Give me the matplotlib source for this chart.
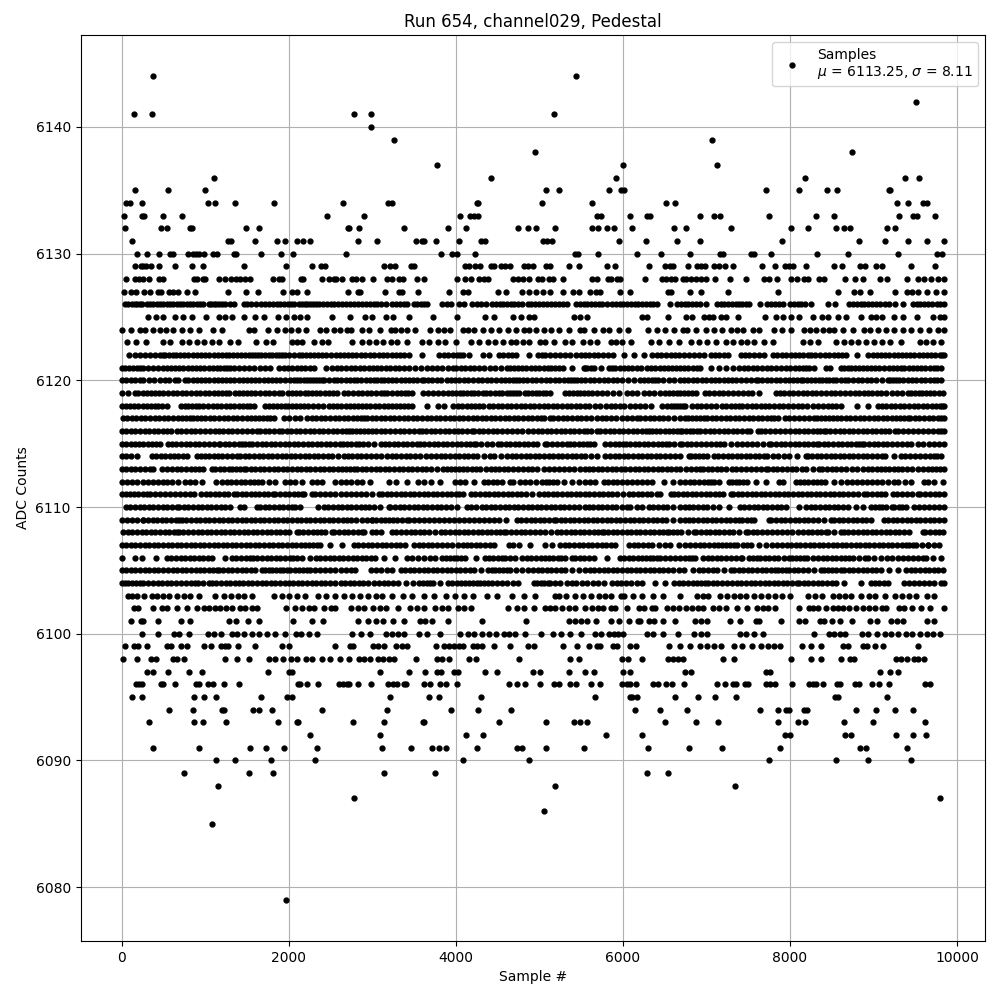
import matplotlib
matplotlib.use("Agg")
import matplotlib.pyplot as plt

at_6144 = [380, 5436]
at_6142 = [9504]
at_6141 = [152, 368, 2780, 2984, 5172]
at_6140 = [2984]
at_6139 = [3260, 7068]
at_6138 = [4944, 8748]
at_6137 = [3776, 6000, 7128]
at_6136 = [1100, 4424, 5916, 8184, 9372, 9540]
at_6135 = [164, 560, 1004, 5076, 5232, 5832, 5976, 6012, 7716, 8112, 8448, 8568, 9180, 9200]
at_6134 = [56, 104, 240, 1028, 1112, 1352, 1820, 2648, 3188, 3236, 4250, 4270, 5028, 5628, 6516, 6624, 9276, 9408, 9588, 9636]
at_6133 = [32, 248, 272, 500, 728, 2456, 2900, 4052, 4172, 4220, 4268, 5688, 5736, 6084, 6288, 6324, 6924, 7092, 7164, 7752, 8316, 8532, 9300, 9468, 9516, 9732]
at_6132 = [44, 476, 548, 820, 844, 1484, 1640, 2708, 2724, 2840, 3380, 3908, 4124, 4748, 4868, 4956, 5184, 5628, 5700, 5808, 5892, 6108, 6612, 6756, 7296, 8016, 8220, 8556, 8652, 8724, 9156, 9252]
at_6131 = [128, 1268, 1308, 1592, 1856, 1952, 2096, 2168, 2252, 2828, 3056, 3524, 3596, 3620, 3764, 4040, 4304, 4352, 5040, 5088, 5148, 5952, 6276, 6648, 6924, 7908, 8820, 9132, 9408, 9636, 9840]
at_6130 = [188, 308, 452, 584, 620, 800, 860, 888, 932, 992, 1088, 1136, 1340, 1364, 1664, 1904, 2048, 2684, 3824, 3956, 4016, 4232, 5424, 5460, 5700, 6168, 6456, 6804, 7164, 7200, 7536, 7572, 7776, 8328, 8700, 9288, 9756, 9816]
at_6129 = [164, 236, 260, 296, 348, 452, 644, 848, 980, 1460, 1964, 2276, 2384, 2432, 3140, 3212, 3272, 3464, 3500, 4112, 4160, 4232, 4292, 4424, 4460, 4544, 4592, 4652, 4820, 4868, 4920, 5076, 5124, 5352, 5472, 5808, 5904, 6312, 6504, 6564, 6600, 6780, 6888, 6936, 6984, 7092, 7152, 7224, 7320, 7668, 7824, 7944, 7992, 8040, 8196, 8532, 8628, 8832, 8892, 9024, 9096, 9444, 9732]
at_6128 = [56, 164, 212, 260, 332, 452, 500, 872, 908, 980, 1004, 1160, 1232, 1304, 1364, 1412, 1472, 1532, 1808, 1880, 1916, 2144, 2168, 2396, 2480, 2540, 2564, 2636, 2756, 2804, 2876, 3008, 3176, 3236, 3320, 3368, 3536, 3620, 4016, 4112, 4184, 4280, 4340, 4388, 4688, 4748, 4808, 4880, 4980, 5028, 5112, 5160, 5280, 5628, 5688, 5820, 5856, 5928, 5964, 6264, 6468, 6516, 6576, 6624, 6720, 6756, 6816, 6876, 6936, 6996, 7104, 7284, 7476, 7692, 7752, 7848, 8016, 8088, 8172, 8220, 8352, 8412, 8664, 8784, 8868, 9072, 9156, 9396, 9528, 9600, 9684, 9768, 9840]
at_6127 = [32, 116, 176, 272, 344, 440, 476, 572, 620, 680, 788, 884, 1268, 1484, 1628, 1928, 2036, 2096, 2216, 2708, 2828, 2852, 3152, 3320, 3356, 3548, 3920, 4088, 4148, 4508, 4604, 4796, 4880, 4956, 5040, 5124, 5280, 5400, 5472, 5604, 5676, 5724, 5964, 6084, 6540, 6576, 6804, 6936, 7260, 7860, 8580, 8772, 8832, 8952, 9252, 9396, 9456, 9528, 9636, 9744, 9840]
at_6126 = [44, 120, 190, 248, 300, 380, 460, 540, 580, 660, 740, 820, 900, 980, 1040, 1100, 1160, 1240, 1348, 1460, 1550, 1668, 1720, 1810, 1900, 1988, 2060, 2120, 2190, 2252, 2324, 2410, 2508, 2548, 2640, 2730, 2828, 2880, 2970, 3060, 3160, 3240, 3332, 3416, 3500, 3580, 3660, 3840, 3940, 4040, 4100, 4188, 4300, 4428, 4480, 4570, 4660, 4740, 4788, 4860, 4950, 5040, 5140, 5240, 5332, 5444, 5530, 5620, 5710, 5804, 5872, 5960, 6050, 6140, 6230, 6320, 6412, 6564, 6650, 6740, 6830, 6924, 6992, 7124, 7172, 7260, 7350, 7430, 7512, 7644, 7720, 7820, 7920, 8004, 8090, 8180, 8252, 8452, 8540, 8712, 8800, 8890, 8980, 9072, 9132, 9180, 9260, 9348, 9472, 9560, 9650, 9760, 9840, 82, 155, 220, 340, 420, 500, 620, 700, 780, 860, 940, 1070, 1130, 1200, 1295, 1505, 1610, 1765, 1855, 1945, 2025, 2155, 2220, 2290, 2365, 2460, 2595, 2685, 2780, 2925, 3015, 3110, 3290, 3375, 3540, 3620, 3890, 4250, 4365, 4525, 4615, 4700, 4905, 4995, 5090, 5190, 5285, 5490, 5575, 5665, 5755, 5915, 6005, 6095, 6185, 6275, 6365, 6695, 6785, 6875, 7215, 7305, 7390, 7470, 7770, 7870, 8050, 8135, 8755, 8845, 8935, 9025, 9520, 9605, 9705, 9800]
at_6125 = [320, 410, 500, 640, 740, 840, 1016, 1160, 1240, 1320, 1460, 1600, 1708, 1868, 1964, 2060, 2132, 2216, 2524, 2728, 2912, 2996, 3164, 3248, 3440, 3728, 4020, 4352, 4460, 4680, 4780, 4880, 4932, 5412, 5484, 5568, 6224, 6288, 6536, 6756, 6828, 6972, 7030, 7084, 7180, 7236, 7380, 7704, 7832, 7920, 8010, 8112, 8280, 8388, 8460, 8570, 8672, 8844, 8972, 9024, 9100, 9240, 9348, 9516, 9716, 9790, 9840]
at_6124 = [0, 110, 220, 284, 370, 460, 528, 620, 720, 820, 932, 1088, 1200, 1520, 1588, 1748, 1856, 1952, 2024, 2108, 2204, 2372, 2444, 2540, 2612, 2700, 2740, 2880, 2960, 3088, 3220, 3272, 3340, 3412, 3508, 3688, 3788, 3860, 3932, 4092, 4148, 4220, 4320, 4420, 4520, 4620, 4720, 4820, 4880, 4960, 5052, 5136, 5232, 5350, 5484, 5532, 5652, 5760, 5832, 5950, 6060, 6300, 6404, 6500, 6610, 6724, 6772, 6880, 6990, 7090, 7192, 7292, 7360, 7432, 7552, 7632, 7812, 7910, 8012, 8172, 8240, 8308, 8392, 8472, 8532, 8632, 8760, 8880, 8952, 9052, 9150, 9250, 9350, 9450, 9560, 9660, 9770, 9842]
at_6123 = [60, 170, 292, 500, 580, 720, 810, 900, 990, 1080, 1160, 1300, 1388, 1608, 1724, 1808, 2036, 2100, 2164, 2300, 2400, 2468, 2756, 2880, 2960, 3040, 3130, 3220, 3300, 3420, 3600, 3680, 3788, 3872, 4000, 4180, 4280, 4380, 4470, 4560, 4660, 4720, 4800, 4880, 5012, 5072, 5172, 5312, 5392, 5524, 5610, 5692, 5852, 5920, 5992, 6092, 6340, 6432, 6552, 6672, 6812, 6910, 7010, 7112, 7232, 7320, 7410, 7490, 7572, 7692, 7792, 8152, 8240, 8332, 8552, 8652, 8730, 8812, 8912, 9000, 9100, 9200, 9332, 9552, 9632, 9712, 9810]
at_6122 = [92, 220, 340, 460, 520, 610, 700, 800, 900, 1000, 1100, 1200, 1290, 1380, 1424, 1520, 1600, 1668, 1760, 1850, 1920, 2000, 2120, 2210, 2300, 2400, 2452, 2572, 2660, 2760, 2860, 2970, 3080, 3180, 3284, 3380, 3440, 3596, 3800, 3910, 4020, 4092, 4160, 4320, 4400, 4520, 4620, 4720, 4880, 4980, 5072, 5132, 5250, 5372, 5444, 5550, 5650, 5760, 5880, 6012, 6132, 6252, 6352, 6460, 6572, 6620, 6730, 6850, 6972, 7052, 7150, 7260, 7412, 7460, 7570, 7692, 7792, 7900, 8010, 8110, 8212, 8252, 8360, 8472, 8580, 8672, 8800, 8932, 8992, 9090, 9190, 9290, 9390, 9490, 9590, 9690, 9790, 9842, 156, 280, 400, 490, 565, 655, 750, 850, 950, 1050, 1150, 1245, 1335, 1472, 1560, 1634, 1714, 1805, 1885, 1960, 2060, 2165, 2255, 2350, 2512, 2616, 2710, 2810, 2915, 3025, 3130, 3232, 3332, 3855, 3965, 4056, 4570, 4670, 5026, 5190, 5310, 5500, 5600, 5705, 5820, 6406, 6516, 6675, 6790, 6910, 7100, 7205, 7515, 7630, 7845, 7955, 8060, 8160, 8305, 8415, 8525, 8625, 9040, 9140, 9240, 9340, 9440, 9540, 9640, 9740, 9815]
at_6121 = [0, 90, 180, 260, 380, 500, 540, 640, 740, 840, 940, 1040, 1140, 1220, 1300, 1340, 1460, 1580, 1660, 1780, 1888, 1990, 2100, 2200, 2300, 2448, 2520, 2630, 2740, 2850, 2960, 3060, 3160, 3270, 3380, 3510, 3650, 3710, 3840, 3972, 4004, 4110, 4220, 4340, 4470, 4612, 4652, 4750, 4844, 4900, 5000, 5100, 5190, 5284, 5392, 5532, 5572, 5660, 5740, 5828, 5908, 6010, 6110, 6216, 6288, 6390, 6490, 6590, 6688, 6780, 6840, 6928, 7056, 7152, 7232, 7320, 7388, 7500, 7610, 7720, 7830, 7950, 8060, 8150, 8228, 8288, 8428, 8480, 8608, 8690, 8776, 8868, 8970, 9070, 9180, 9280, 9370, 9470, 9568, 9616, 9720, 9810, 45, 135, 220, 320, 440, 590, 690, 790, 890, 990, 1090, 1180, 1260, 1400, 1520, 1720, 1940, 2045, 2150, 2250, 2575, 2685, 2795, 2905, 3010, 3110, 3215, 3325, 3445, 3580, 3775, 3905, 4057, 4165, 4280, 4405, 4540, 4700, 4797, 4950, 5050, 5145, 5237, 5552, 5616, 5868, 5960, 6060, 6163, 6340, 6440, 6540, 6640, 6735, 6884, 7444, 7555, 7665, 7775, 7890, 8005, 8105, 8190, 8649, 8733, 8820, 8920, 9020, 9125, 9230, 9325, 9420, 9520, 9670, 9765]
at_6120 = [0, 110, 220, 260, 390, 520, 572, 640, 680, 760, 800, 900, 1000, 1100, 1200, 1300, 1400, 1500, 1600, 1700, 1800, 1900, 2020, 2060, 2140, 2220, 2260, 2330, 2400, 2420, 2540, 2580, 2680, 2780, 2820, 2920, 3020, 3100, 3190, 3290, 3390, 3490, 3590, 3620, 3720, 3820, 3892, 3990, 4044, 4150, 4260, 4370, 4480, 4590, 4680, 4762, 4802, 4910, 5020, 5130, 5240, 5340, 5416, 5450, 5550, 5660, 5770, 5880, 5990, 6128, 6208, 6300, 6388, 6416, 6550, 6680, 6780, 6890, 7000, 7100, 7208, 7256, 7350, 7470, 7588, 7616, 7720, 7830, 7940, 8040, 8128, 8160, 8250, 8348, 8388, 8470, 8556, 8608, 8700, 8810, 8920, 9030, 9168, 9196, 9270, 9348, 9408, 9510, 9620, 9720, 9810, 55, 165, 325, 455, 850, 950, 1050, 1150, 1250, 1350, 1450, 1550, 1650, 1750, 1850, 1960, 2100, 2180, 2295, 2365, 2480, 2630, 2730, 2870, 2970, 3060, 3145, 3240, 3340, 3440, 3540, 3670, 3770, 3940, 4097, 4205, 4315, 4425, 4535, 4635, 4720, 4855, 4965, 5075, 5185, 5290, 5378, 5500, 5605, 5715, 5825, 5935, 6060, 6254, 6344, 6482, 6615, 6730, 6835, 6945, 7050, 7150, 7300, 7410, 7530, 7670, 7775, 7885, 7990, 8084, 8205, 8300, 8428, 8512, 8655, 8755, 8865, 8975, 9100, 9235, 9310, 9460, 9565, 9670, 9765]
at_6119 = [0, 160, 200, 300, 400, 500, 610, 720, 830, 940, 1000, 1100, 1200, 1290, 1360, 1400, 1500, 1600, 1660, 1770, 1880, 1920, 1988, 2090, 2190, 2280, 2380, 2480, 2580, 2660, 2770, 2880, 2990, 3100, 3180, 3234, 3300, 3392, 3472, 3612, 3730, 3852, 3912, 4000, 4092, 4132, 4220, 4320, 4412, 4472, 4552, 4612, 4680, 4752, 4830, 4910, 5000, 5078, 5130, 5310, 5400, 5490, 5538, 5630, 5750, 5880, 5948, 6048, 6108, 6168, 6248, 6308, 6368, 6448, 6508, 6600, 6688, 6780, 6872, 6980, 7088, 7200, 7320, 7440, 7548, 7628, 7828, 7930, 8040, 8150, 8260, 8368, 8428, 8540, 8660, 8776, 8828, 8930, 9040, 9148, 9280, 9408, 9448, 9540, 9630, 9728, 9788, 9830, 80, 250, 350, 450, 555, 665, 775, 885, 1050, 1150, 1245, 1450, 1550, 1715, 1825, 2040, 2140, 2235, 2330, 2430, 2530, 2715, 2825, 2935, 3045, 3140, 3346, 3432, 3670, 3790, 3956, 4046, 4176, 4270, 4366, 4516, 4646, 4716, 4870, 4955, 5040, 5355, 5445, 5585, 5690, 5815, 6555, 6645, 6735, 6825, 7034, 7145, 7260, 7380, 7495, 7880, 7985, 8095, 8205, 8315, 8485, 8600, 8720, 8880, 8985, 9095, 9215, 9345, 9495, 9585, 9680]
at_6118 = [0, 100, 200, 300, 400, 480, 548, 708, 800, 890, 972, 1028, 1092, 1190, 1300, 1400, 1500, 1580, 1720, 1760, 1860, 1950, 2040, 2092, 2180, 2290, 2412, 2480, 2580, 2680, 2780, 2880, 2974, 3080, 3190, 3280, 3380, 3470, 3660, 3790, 3860, 3970, 4032, 4130, 4230, 4324, 4392, 4500, 4610, 4720, 4830, 4940, 5050, 5160, 5270, 5380, 5490, 5600, 5728, 5800, 5910, 6016, 6088, 6200, 6340, 6468, 6528, 6610, 6688, 6748, 6828, 6940, 7056, 7120, 7188, 7290, 7388, 7428, 7540, 7650, 7748, 7808, 7920, 8040, 8148, 8208, 8330, 8450, 8548, 8616, 8808, 8936, 9048, 9150, 9260, 9370, 9480, 9590, 9700, 9790, 9842, 50, 150, 250, 350, 440, 754, 845, 930, 1140, 1245, 1350, 1450, 1540, 1810, 1905, 1995, 2135, 2235, 2350, 2530, 2630, 2730, 2830, 2930, 3030, 3135, 3235, 3330, 3425, 4080, 4180, 4278, 4445, 4555, 4665, 4775, 4885, 4995, 5105, 5215, 5325, 5435, 5545, 5665, 5855, 5963, 6145, 6270, 6570, 6650, 6718, 6885, 7000, 7240, 7340, 7485, 7595, 7700, 7865, 7980, 8095, 8270, 8390, 8500, 9100, 9205, 9315, 9425, 9535, 9645, 9745, 9815]
at_6117 = [20, 120, 230, 340, 450, 560, 670, 770, 860, 900, 1000, 1110, 1220, 1330, 1440, 1550, 1650, 1740, 1820, 1948, 2000, 2140, 2220, 2330, 2440, 2550, 2660, 2770, 2860, 2940, 3000, 3100, 3210, 3320, 3430, 3540, 3650, 3760, 3870, 3980, 4090, 4200, 4310, 4420, 4530, 4640, 4750, 4860, 4970, 5060, 5124, 5168, 5280, 5390, 5500, 5620, 5696, 5800, 5920, 6048, 6108, 6168, 6208, 6320, 6430, 6540, 6688, 6748, 6776, 6880, 6968, 7008, 7120, 7230, 7340, 7450, 7560, 7670, 7770, 7856, 7936, 8050, 8170, 8288, 8320, 8420, 8520, 8608, 8668, 8780, 8890, 9000, 9110, 9220, 9320, 9408, 9440, 9550, 9660, 9770, 9842, 70, 175, 285, 395, 505, 615, 720, 815, 950, 1055, 1165, 1275, 1385, 1495, 1600, 1695, 1780, 2070, 2275, 2385, 2495, 2605, 2715, 2815, 2900, 3050, 3155, 3265, 3375, 3485, 3595, 3705, 3815, 3925, 4035, 4145, 4255, 4365, 4475, 4585, 4695, 4805, 4915, 5015, 5224, 5335, 5445, 5560, 5748, 5860, 5984, 6264, 6375, 6485, 6615, 6828, 6924, 7064, 7175, 7285, 7395, 7505, 7615, 7720, 7813, 7993, 8110, 8230, 8370, 8470, 8564, 8724, 8835, 8945, 9055, 9165, 9270, 9364, 9495, 9605, 9715, 9806]
at_6116 = [0, 110, 220, 330, 440, 540, 588, 660, 770, 880, 1000, 1120, 1160, 1270, 1380, 1500, 1620, 1660, 1770, 1880, 1920, 2030, 2140, 2250, 2360, 2470, 2580, 2690, 2760, 2800, 2900, 3000, 3100, 3210, 3330, 3440, 3554, 3594, 3700, 3810, 3920, 4030, 4130, 4192, 4220, 4330, 4440, 4550, 4670, 4790, 4870, 4980, 5090, 5200, 5310, 5420, 5530, 5620, 5690, 5730, 5840, 5950, 6060, 6170, 6280, 6350, 6392, 6500, 6600, 6688, 6708, 6800, 6888, 6928, 7040, 7150, 7260, 7370, 7488, 7520, 7616, 7648, 7760, 7880, 8000, 8110, 8220, 8320, 8408, 8428, 8540, 8650, 8760, 8870, 8980, 9090, 9180, 9256, 9296, 9410, 9530, 9650, 9770, 9842, 55, 165, 275, 385, 490, 715, 825, 940, 1060, 1215, 1325, 1440, 1560, 1715, 1825, 1975, 2085, 2195, 2305, 2415, 2525, 2635, 2725, 2850, 2950, 3050, 3155, 3270, 3385, 3497, 3647, 3755, 3865, 3975, 4080, 4275, 4385, 4495, 4610, 4730, 4925, 5035, 5145, 5255, 5365, 5475, 5575, 5785, 5895, 6005, 6115, 6225, 6315, 6446, 6550, 6644, 6754, 6844, 6984, 7095, 7205, 7315, 7430, 7704, 7820, 7940, 8055, 8165, 8270, 8364, 8484, 8595, 8705, 8815, 8925, 9035, 9135, 9353, 9470, 9590, 9710, 9806]
at_6115 = [0, 110, 210, 310, 412, 460, 560, 600, 710, 820, 930, 1040, 1160, 1180, 1290, 1400, 1480, 1560, 1620, 1730, 1840, 1950, 2060, 2170, 2280, 2390, 2500, 2610, 2700, 2800, 2840, 2950, 3100, 3200, 3310, 3420, 3534, 3566, 3680, 3790, 3900, 4010, 4120, 4212, 4244, 4370, 4500, 4540, 4650, 4760, 4870, 4970, 5070, 5090, 5210, 5330, 5362, 5470, 5570, 5650, 5790, 5900, 6000, 6032, 6140, 6250, 6360, 6470, 6552, 6612, 6688, 6710, 6820, 6930, 7050, 7168, 7208, 7288, 7368, 7480, 7600, 7748, 7776, 7890, 8000, 8110, 8220, 8328, 8348, 8460, 8570, 8680, 8790, 8856, 8888, 9000, 9110, 9220, 9340, 9448, 9528, 9660, 9788, 9840, 55, 160, 260, 360, 655, 765, 875, 985, 1100, 1235, 1345, 1440, 1520, 1675, 1785, 1895, 2005, 2115, 2225, 2335, 2445, 2555, 2655, 2750, 2895, 3025, 3150, 3255, 3365, 3477, 3623, 3735, 3845, 3955, 4065, 4165, 4307, 4435, 4595, 4705, 4815, 4920, 5150, 5270, 5416, 5520, 5610, 5845, 5950, 6086, 6195, 6305, 6415, 6510, 6765, 6875, 6990, 7110, 7424, 7540, 7675, 7833, 7945, 8055, 8165, 8275, 8404, 8515, 8625, 8735, 8823, 8944, 9055, 9165, 9280, 9395, 9594, 9725]
at_6114 = [0, 108, 180, 360, 470, 580, 680, 780, 900, 1000, 1100, 1200, 1260, 1380, 1412, 1530, 1640, 1750, 1860, 1970, 2080, 2190, 2300, 2410, 2520, 2660, 2760, 2870, 2980, 3100, 3182, 3290, 3400, 3510, 3640, 3764, 3820, 3930, 4040, 4150, 4250, 4332, 4404, 4460, 4540, 4612, 4670, 4780, 4890, 5000, 5110, 5220, 5330, 5440, 5550, 5696, 5788, 5900, 6010, 6120, 6230, 6340, 6450, 6560, 6688, 6788, 6816, 6910, 7008, 7088, 7200, 7310, 7416, 7468, 7580, 7688, 7728, 7860, 7988, 8088, 8188, 8216, 8320, 8430, 8540, 8650, 8760, 8870, 8980, 9096, 9136, 9248, 9328, 9440, 9560, 9680, 9720, 9810, 54, 415, 525, 630, 730, 950, 1050, 1150, 1320, 1471, 1585, 1695, 1805, 1915, 2025, 2135, 2245, 2355, 2465, 2590, 2710, 2815, 2925, 3040, 3236, 3345, 3455, 3575, 3702, 3875, 3985, 4095, 4200, 4725, 4835, 4945, 5055, 5165, 5275, 5385, 5495, 5620, 5844, 5955, 6065, 6175, 6285, 6395, 6505, 6624, 6863, 6960, 7144, 7255, 7363, 7524, 7634, 7794, 7924, 8268, 8375, 8485, 8595, 8705, 8815, 8925, 9040, 9378, 9500, 9620, 9765]
at_6113 = [0, 110, 220, 340, 380, 480, 548, 660, 770, 880, 980, 1080, 1120, 1172, 1280, 1370, 1460, 1490, 1600, 1710, 1820, 1930, 2040, 2150, 2260, 2370, 2480, 2590, 2690, 2780, 2820, 2930, 3040, 3150, 3260, 3370, 3480, 3590, 3700, 3846, 3892, 3990, 4090, 4192, 4244, 4292, 4364, 4470, 4572, 4620, 4740, 4860, 4972, 5052, 5170, 5290, 5420, 5550, 5590, 5700, 5810, 5920, 6030, 6140, 6250, 6360, 6470, 6580, 6688, 6810, 6928, 6960, 7070, 7180, 7300, 7416, 7468, 7590, 7708, 7736, 7850, 7970, 8070, 8148, 8188, 8270, 8348, 8388, 8500, 8610, 8740, 8868, 8928, 9040, 9140, 9240, 9288, 9400, 9530, 9648, 9696, 9800, 9842, 55, 165, 280, 604, 715, 825, 930, 1226, 1325, 1415, 1545, 1655, 1765, 1875, 1985, 2095, 2205, 2315, 2425, 2535, 2640, 2735, 2875, 2985, 3095, 3205, 3315, 3425, 3535, 3645, 3770, 3940, 4040, 4140, 4417, 4520, 4680, 4800, 4915, 5110, 5230, 5355, 5485, 5645, 5755, 5865, 5975, 6085, 6195, 6305, 6415, 6525, 6634, 6750, 6870, 7015, 7125, 7240, 7358, 7530, 7650, 7793, 7910, 8020, 8444, 8555, 8675, 8804, 8984, 9090, 9190, 9344, 9465, 9590, 9750]
at_6112 = [0, 130, 252, 380, 490, 600, 672, 760, 880, 968, 1128, 1200, 1260, 1370, 1480, 1590, 1680, 1760, 1840, 1960, 2080, 2160, 2280, 2400, 2560, 2620, 2750, 2880, 2974, 3196, 3286, 3412, 3552, 3620, 3704, 3808, 3992, 4052, 4112, 4212, 4332, 4440, 4550, 4644, 4684, 4772, 4890, 4962, 5030, 5120, 5210, 5290, 5390, 5480, 5550, 5668, 5768, 5880, 5990, 6110, 6230, 6350, 6488, 6604, 6688, 6800, 6910, 7020, 7088, 7156, 7268, 7350, 7440, 7488, 7588, 7708, 7868, 7920, 8068, 8120, 8220, 8320, 8416, 8528, 8608, 8680, 8748, 8860, 8980, 9100, 9248, 9288, 9380, 9448, 9608, 9656, 9728, 9830, 65, 190, 315, 435, 545, 820, 1315, 1425, 1535, 1635, 2020, 2340, 2685, 2815, 4385, 4495, 4830, 5075, 5165, 5609, 5825, 5935, 6050, 6170, 6290, 6744, 6855, 6965, 7054, 7310, 7395, 8170, 8270, 8368, 8804, 8920, 9040, 9170]
at_6111 = [0, 100, 200, 300, 340, 460, 580, 700, 820, 872, 948, 1060, 1170, 1270, 1340, 1380, 1490, 1600, 1700, 1812, 1840, 1950, 2060, 2160, 2188, 2280, 2320, 2440, 2560, 2680, 2800, 2920, 3080, 3122, 3230, 3340, 3450, 3560, 3670, 3780, 3890, 4000, 4084, 4180, 4290, 4400, 4510, 4620, 4730, 4840, 4990, 5052, 5160, 5270, 5380, 5490, 5600, 5710, 5820, 5930, 6068, 6120, 6230, 6340, 6410, 6450, 6570, 6608, 6656, 6770, 6880, 6990, 7100, 7200, 7288, 7320, 7430, 7540, 7650, 7760, 7870, 7980, 8090, 8200, 8310, 8420, 8530, 8640, 8750, 8880, 8920, 9040, 9140, 9228, 9280, 9400, 9528, 9560, 9616, 9730, 9842, 50, 150, 250, 400, 520, 640, 760, 1005, 1115, 1220, 1435, 1545, 1650, 1756, 1895, 2005, 2110, 2380, 2500, 2620, 2740, 2860, 3000, 3175, 3285, 3395, 3505, 3615, 3725, 3835, 3945, 4042, 4235, 4345, 4455, 4565, 4675, 4785, 4915, 5106, 5215, 5325, 5435, 5545, 5655, 5765, 5875, 6000, 6175, 6285, 6715, 6825, 6935, 7045, 7150, 7375, 7485, 7595, 7705, 7815, 7925, 8035, 8145, 8255, 8365, 8475, 8585, 8695, 8815, 8980, 9090, 9340, 9464, 9673, 9785]
at_6110 = [52, 160, 270, 380, 490, 600, 660, 692, 800, 910, 1020, 1130, 1240, 1420, 1460, 1620, 1660, 1770, 1880, 1990, 2080, 2132, 2348, 2420, 2530, 2640, 2750, 2860, 2960, 3020, 3098, 3202, 3218, 3330, 3440, 3550, 3660, 3770, 3880, 4012, 4130, 4240, 4310, 4420, 4530, 4640, 4750, 4860, 4970, 5080, 5190, 5300, 5410, 5550, 5590, 5700, 5810, 5920, 6050, 6090, 6170, 6230, 6308, 6420, 6530, 6688, 6790, 6900, 7010, 7148, 7268, 7400, 7510, 7620, 7730, 7840, 7950, 8108, 8188, 8248, 8360, 8470, 8580, 8700, 8868, 8968, 9060, 9148, 9216, 9300, 9388, 9480, 9600, 9720, 9842, 106, 215, 325, 435, 545, 746, 855, 965, 1075, 1185, 1300, 1715, 1825, 1935, 2035, 2475, 2585, 2695, 2805, 2910, 3274, 3385, 3495, 3605, 3715, 3825, 3946, 4185, 4365, 4475, 4585, 4695, 4805, 4915, 5025, 5135, 5245, 5355, 5480, 5645, 5755, 5865, 5985, 6364, 6475, 6600, 6740, 6845, 6955, 7080, 7455, 7565, 7675, 7785, 7895, 8304, 8415, 8525, 8640, 8785, 9015, 9104, 9250, 9340, 9540, 9660, 9780]
at_6109 = [0, 120, 252, 260, 370, 480, 590, 692, 720, 830, 940, 1050, 1160, 1270, 1380, 1490, 1600, 1710, 1820, 1930, 2040, 2150, 2260, 2370, 2480, 2590, 2700, 2800, 2880, 2940, 3000, 3100, 2994, 3200, 3300, 3412, 3444, 3560, 3680, 3800, 3920, 4040, 4160, 4280, 4400, 4512, 4596, 4728, 4840, 4950, 5060, 5170, 5200, 5310, 5420, 5530, 5640, 5750, 5860, 5970, 6080, 6190, 6300, 6410, 6520, 6688, 6790, 6900, 7010, 7120, 7230, 7340, 7430, 7528, 7568, 7748, 7776, 7890, 8000, 8110, 8220, 8330, 8496, 8528, 8640, 8750, 8860, 8970, 9128, 9176, 9228, 9340, 9450, 9560, 9670, 9780, 9842, 60, 185, 315, 425, 535, 645, 775, 885, 995, 1105, 1215, 1325, 1435, 1545, 1655, 1765, 1875, 1985, 2095, 2205, 2315, 2425, 2535, 2645, 2750, 3050, 3150, 3250, 3356, 3500, 3620, 3740, 3860, 3980, 4100, 4220, 4340, 4456, 4784, 4895, 5005, 5115, 5255, 5365, 5475, 5585, 5695, 5805, 5915, 6025, 6135, 6245, 6355, 6465, 6600, 6740, 6845, 6955, 7065, 7175, 7285, 7385, 7480, 7830, 7945, 8055, 8165, 8275, 8410, 8584, 8695, 8805, 8915, 9280, 9395, 9505, 9615, 9725]
at_6108 = [20, 130, 240, 350, 460, 570, 660, 684, 800, 910, 1020, 1130, 1240, 1350, 1460, 1570, 1680, 1790, 1900, 2000, 2100, 2120, 2230, 2340, 2440, 2520, 2540, 2660, 2770, 2880, 2900, 3000, 3100, 3234, 3350, 3460, 3570, 3680, 3754, 3820, 3930, 4040, 4150, 4260, 4370, 4480, 4572, 4604, 4720, 4830, 4950, 5070, 5138, 5210, 5320, 5430, 5540, 5650, 5748, 5770, 5880, 5990, 6100, 6210, 6320, 6430, 6530, 6550, 6650, 6696, 6780, 6848, 6880, 6990, 7100, 7210, 7320, 7468, 7496, 7610, 7720, 7840, 7960, 8028, 8100, 8210, 8320, 8428, 8456, 8530, 8616, 8648, 8760, 8870, 8980, 9090, 9200, 9310, 9420, 9588, 9616, 9740, 9830, 75, 185, 295, 405, 515, 625, 740, 855, 965, 1075, 1185, 1295, 1405, 1515, 1625, 1735, 1845, 1950, 2175, 2285, 2390, 2600, 2715, 2825, 3050, 3290, 3405, 3515, 3625, 3875, 3985, 4095, 4205, 4315, 4425, 4530, 4660, 4775, 4890, 5010, 5265, 5375, 5485, 5595, 5700, 5825, 5935, 6045, 6155, 6265, 6375, 6480, 6600, 6935, 7045, 7155, 7265, 7390, 7555, 7665, 7780, 7900, 8155, 8265, 8375, 8700, 8815, 8925, 9035, 9145, 9255, 9365, 9670, 9785]
at_6107 = [0, 110, 220, 330, 440, 550, 660, 770, 880, 990, 1100, 1210, 1320, 1430, 1540, 1650, 1760, 1870, 1980, 2090, 2200, 2290, 2380, 2500, 2640, 2780, 2890, 3000, 3114, 3162, 3280, 3392, 3500, 3610, 3720, 3830, 3960, 4092, 4132, 4240, 4350, 4460, 4632, 4684, 4752, 4892, 5070, 5150, 5250, 5360, 5470, 5580, 5690, 5800, 5910, 6070, 6130, 6240, 6350, 6508, 6568, 6668, 6748, 6808, 6920, 7030, 7140, 7240, 7328, 7368, 7440, 7530, 7628, 7708, 7788, 7848, 7960, 8070, 8180, 8290, 8400, 8510, 8620, 8730, 8840, 8950, 9060, 9170, 9280, 9390, 9468, 9508, 9576, 9650, 9728, 9788, 55, 165, 275, 385, 495, 605, 715, 825, 935, 1045, 1155, 1265, 1375, 1485, 1595, 1705, 1815, 1925, 2035, 2145, 2245, 2335, 2835, 2945, 3055, 3220, 3335, 3555, 3665, 3775, 3895, 4025, 4186, 4295, 4405, 5305, 5415, 5525, 5635, 5745, 5860, 6185, 6295, 6430, 6865, 6975, 7085, 7190, 7285, 7485, 7905, 8015, 8125, 8235, 8345, 8455, 8565, 8675, 8785, 8895, 9005, 9115, 9225, 9335, 9430, 9650]
at_6106 = [0, 160, 244, 416, 540, 650, 760, 870, 980, 1080, 1240, 1320, 1430, 1540, 1572, 1680, 1790, 1900, 2010, 2100, 2164, 2250, 2332, 2380, 2490, 2600, 2710, 2820, 2930, 3030, 3142, 3274, 3410, 3550, 3690, 3750, 3840, 3930, 4020, 4112, 4240, 4352, 4450, 4552, 4592, 4712, 4790, 4850, 4960, 5070, 5110, 5220, 5310, 5390, 5430, 5540, 5650, 5808, 5968, 6016, 6120, 6230, 6320, 6410, 6448, 6560, 6688, 6790, 6868, 6960, 7070, 7180, 7290, 7408, 7428, 7510, 7600, 7640, 7750, 7860, 7988, 8028, 8120, 8208, 8280, 8390, 8500, 8610, 8708, 8760, 8896, 8936, 9088, 9160, 9296, 9348, 9470, 9588, 9628, 9708, 9808, 595, 705, 815, 925, 1030, 1375, 1485, 1625, 1735, 1845, 1955, 2055, 2435, 2545, 2655, 2765, 2875, 2980, 3480, 3620, 3885, 3975, 4065, 4400, 4500, 4650, 4905, 5015, 5165, 5265, 5485, 5595, 6070, 6175, 6275, 6365, 6505, 6625, 6740, 6830, 7015, 7125, 7235, 7350, 7555, 7695, 7805, 7925, 8075, 8165, 8335, 8445, 8555, 8660, 8830, 9010, 9225, 9410, 9530]
at_6105 = [0, 110, 220, 330, 440, 500, 610, 720, 830, 940, 1040, 1140, 1160, 1270, 1380, 1490, 1600, 1680, 1760, 1800, 1890, 1980, 2020, 2120, 2220, 2260, 2380, 2500, 2620, 2740, 2788, 2980, 3100, 3174, 3240, 3340, 3450, 3560, 3670, 3780, 3890, 4000, 4110, 4220, 4390, 4430, 4520, 4612, 4650, 4790, 4870, 4980, 5090, 5200, 5310, 5470, 5550, 5660, 5770, 5880, 5990, 6100, 6210, 6320, 6430, 6540, 6668, 6736, 6840, 6908, 7020, 7130, 7288, 7328, 7440, 7550, 7660, 7770, 7860, 7948, 7988, 8100, 8210, 8368, 8408, 8500, 8608, 8648, 8760, 8870, 8980, 9090, 9288, 9388, 9500, 9610, 9720, 9830, 55, 165, 275, 385, 555, 665, 775, 885, 990, 1090, 1215, 1325, 1435, 1545, 1720, 1845, 1935, 2070, 2170, 2320, 2440, 2560, 2680, 3040, 3390, 3505, 3615, 3725, 3835, 3945, 4055, 4165, 4305, 4475, 4565, 4720, 4925, 5035, 5145, 5255, 5390, 5605, 5715, 5825, 5935, 6045, 6155, 6265, 6375, 6485, 6605, 6964, 7075, 7210, 7385, 7495, 7605, 7715, 7815, 7905, 8045, 8155, 8290, 8455, 8555, 8705, 8815, 8925, 9035, 9190, 9445, 9555, 9665, 9775]
at_6104 = [0, 80, 170, 260, 320, 430, 540, 650, 770, 880, 920, 1040, 1080, 1190, 1300, 1360, 1400, 1510, 1620, 1730, 1840, 1960, 2000, 2110, 2220, 2330, 2440, 2560, 2620, 2730, 2840, 2950, 3080, 3194, 3314, 3490, 3564, 3650, 3730, 3812, 3912, 4010, 4112, 4152, 4250, 4340, 4432, 4490, 4610, 4750, 4930, 5020, 5100, 5130, 5250, 5330, 5440, 5510, 5640, 5770, 5868, 5980, 6100, 6228, 6388, 6500, 6608, 6668, 6780, 6890, 6988, 7016, 7130, 7250, 7368, 7416, 7530, 7640, 7750, 7860, 7970, 8088, 8108, 8220, 8330, 8440, 8556, 8648, 8848, 8968, 9070, 9168, 9368, 9480, 9600, 9728, 9808, 9842, 40, 125, 215, 375, 485, 595, 710, 825, 980, 1135, 1245, 1455, 1565, 1675, 1785, 1900, 2055, 2165, 2275, 2385, 2500, 2675, 2785, 2895, 3015, 3135, 3254, 3400, 3607, 3690, 3960, 4060, 4200, 4295, 4385, 4550, 4680, 4975, 5060, 5190, 5385, 5575, 5705, 5925, 6040, 6165, 6725, 6835, 6940, 7075, 7190, 7310, 7475, 7585, 7695, 7805, 7915, 8030, 8165, 8275, 8385, 8500, 9020, 9120, 9425, 9540, 9665]
at_6103 = [80, 128, 188, 272, 368, 428, 500, 572, 668, 752, 824, 932, 1112, 1220, 1304, 1388, 1460, 1556, 1820, 1916, 2000, 2096, 2192, 2348, 2444, 2552, 2660, 2756, 2852, 2948, 3044, 3116, 3236, 3368, 3476, 3620, 3740, 3884, 3992, 4100, 4208, 4376, 4496, 4676, 4820, 4944, 5184, 5232, 5324, 5424, 5520, 5616, 5712, 5784, 5856, 5976, 6012, 6120, 6228, 6360, 6480, 6684, 6888, 6960, 7020, 7164, 7248, 7332, 7404, 7476, 7572, 7656, 7740, 7824, 7908, 8004, 8220, 8304, 8388, 8520, 8592, 8664, 8736, 8844, 8940, 9012, 9132, 9252, 9336, 9420, 9504, 9636, 9720]
at_6102 = [152, 200, 380, 488, 548, 668, 788, 908, 992, 1040, 1112, 1172, 1244, 1316, 1412, 1472, 1556, 1616, 1964, 2072, 2156, 2240, 2300, 2420, 2504, 2552, 2744, 2828, 2900, 3008, 3092, 3164, 3308, 3452, 3536, 3620, 3752, 3836, 3908, 4028, 4100, 4184, 4628, 4736, 4816, 4932, 5064, 5124, 5184, 5268, 5352, 5424, 5544, 5628, 5700, 5760, 5856, 5904, 6044, 6192, 6252, 6348, 6384, 6528, 6600, 6672, 6756, 6828, 6900, 6960, 7080, 7152, 7236, 7368, 7488, 7608, 7680, 7740, 7824, 8112, 8232, 8280, 8340, 8436, 8520, 8580, 8640, 8712, 8796, 8868, 8940, 9012, 9096, 9144, 9300, 9360, 9456, 9564, 9672, 9842]
at_6101 = [116, 236, 260, 440, 716, 824, 1280, 1364, 1508, 1640, 2048, 2276, 2408, 2828, 2948, 3044, 3128, 3248, 3380, 3572, 3632, 3716, 3908, 4316, 4844, 5352, 5424, 5496, 5568, 5680, 5856, 5952, 6072, 6180, 6204, 6312, 6372, 6480, 6624, 6864, 6936, 7008, 7284, 7404, 7596, 7632, 7892, 8112, 8184, 8364, 8412, 8508, 8604, 8748, 8952, 9036, 9204, 9276, 9348, 9636, 9720]
at_6100 = [248, 440, 632, 692, 812, 1028, 1100, 1184, 1316, 1376, 1460, 1556, 1640, 1736, 1832, 1952, 2084, 2144, 2240, 2336, 2756, 2864, 2972, 3164, 3236, 3308, 3380, 3560, 3656, 3812, 4052, 4148, 4220, 4316, 4400, 4484, 4580, 4640, 4712, 4832, 5016, 5160, 5256, 5364, 5500, 5664, 5736, 5832, 5892, 5940, 6000, 6288, 6360, 6480, 6660, 6852, 6936, 7008, 7404, 7476, 7572, 7680, 8292, 8472, 8532, 8604, 8664, 8856, 8928, 9036, 9132, 9204, 9288, 9384, 9456, 9552, 9636, 9708, 9792]
at_6099 = [44, 152, 200, 308, 548, 596, 716, 788, 992, 1064, 1184, 1232, 1268, 1388, 1592, 1916, 2000, 2552, 2732, 2768, 3008, 3068, 3140, 3284, 3356, 3416, 3764, 3860, 3920, 3980, 4040, 4088, 4208, 4256, 4316, 4460, 4652, 4868, 4932, 5280, 5448, 5592, 5688, 5724, 5880, 5928, 6084, 6156, 6552, 6684, 6804, 6924, 7008, 7092, 7176, 7332, 7428, 7548, 7656, 7740, 7812, 7884, 8148, 8256, 8376, 8640, 8700, 8868, 8916, 9012, 9108, 9528]
at_6098 = [20, 188, 356, 416, 620, 668, 752, 1232, 1376, 1520, 1760, 1832, 1928, 2024, 2096, 2204, 2276, 2396, 2492, 2612, 2720, 2840, 2900, 2972, 3068, 3128, 3200, 3260, 3524, 3776, 3836, 3920, 4160, 4244, 4760, 5364, 5472, 5988, 6060, 6228, 6540, 6600, 6660, 6720, 7200, 7332, 8016, 8256, 8376, 8616, 8724, 8772, 9264, 9324, 9396, 9480, 9528, 9600]
at_6097 = [308, 380, 560, 812, 968, 1748, 2000, 2036, 3092, 3440, 3632, 3776, 3824, 3980, 4028, 4352, 4496, 4920, 5004, 5352, 5544, 5652, 6000, 6084, 6744, 6816, 7716, 7764, 9072, 9192, 9288]
at_6096 = [176, 212, 248, 476, 500, 644, 896, 932, 1028, 1088, 1220, 1400, 2108, 2132, 2216, 2348, 2600, 2648, 2696, 2720, 2828, 2984, 3188, 3248, 3296, 3380, 3404, 3620, 3692, 3812, 3884, 4016, 4640, 4736, 4832, 5004, 5172, 5232, 5364, 5436, 5616, 5724, 5988, 6048, 6084, 6156, 6360, 6420, 6516, 6588, 6732, 7128, 7224, 7320, 7356, 7464, 7500, 7716, 7764, 7824, 8028, 8232, 8280, 8316, 8400, 8568, 8604, 8784, 8820, 8976, 9060, 9180, 9612, 9672]
at_6095 = [128, 248, 872, 992, 1124, 1664, 1976, 2036, 3212, 3680, 3800, 4304, 5664, 6084, 6108, 6168, 6624, 6900, 7104, 7356, 8544, 8580, 9156]
at_6094 = [572, 860, 1196, 1220, 1568, 1640, 1796, 2396, 3176, 3944, 4268, 4664, 6144, 6444, 6768, 7644, 7860, 7956, 7992, 8172, 8208, 8796, 9024, 9252, 9468]
at_6093 = [332, 872, 980, 1244, 1868, 2096, 2108, 2768, 3140, 3608, 3620, 4520, 5076, 5412, 5484, 5568, 6504, 6876, 7140, 7860, 8100, 8184, 8652, 8988, 9612]
at_6092 = [2252, 3092, 4124, 4328, 5796, 6228, 7944, 8004, 8664, 8736, 9264, 9468, 9624]
at_6091 = [380, 932, 1532, 1724, 1940, 2336, 3116, 3464, 3716, 3800, 3884, 4256, 4736, 4796, 5076, 5532, 6300, 6792, 7188, 7884, 8832, 8904, 9396]
at_6090 = [1124, 1352, 1784, 2312, 4088, 4880, 7752, 8556, 8928, 9444]
at_6089 = [752, 1520, 1808, 3140, 3752, 6288, 6540]
at_6088 = [1148, 5184, 7344]
at_6087 = [2780, 9796]
at_6086 = [5052]
at_6085 = [1076]
at_6079 = [1964]

levels = {
    6144: at_6144, 6142: at_6142, 6141: at_6141, 6140: at_6140, 6139: at_6139,
    6138: at_6138, 6137: at_6137, 6136: at_6136, 6135: at_6135, 6134: at_6134,
    6133: at_6133, 6132: at_6132, 6131: at_6131, 6130: at_6130, 6129: at_6129,
    6128: at_6128, 6127: at_6127, 6126: at_6126, 6125: at_6125, 6124: at_6124,
    6123: at_6123, 6122: at_6122, 6121: at_6121, 6120: at_6120, 6119: at_6119,
    6118: at_6118, 6117: at_6117, 6116: at_6116, 6115: at_6115, 6114: at_6114,
    6113: at_6113, 6112: at_6112, 6111: at_6111, 6110: at_6110, 6109: at_6109,
    6108: at_6108, 6107: at_6107, 6106: at_6106, 6105: at_6105, 6104: at_6104,
    6103: at_6103, 6102: at_6102, 6101: at_6101, 6100: at_6100, 6099: at_6099,
    6098: at_6098, 6097: at_6097, 6096: at_6096, 6095: at_6095, 6094: at_6094,
    6093: at_6093, 6092: at_6092, 6091: at_6091, 6090: at_6090, 6089: at_6089,
    6088: at_6088, 6087: at_6087, 6086: at_6086, 6085: at_6085, 6079: at_6079,
}

xs, ys = [], []
for level, samples in levels.items():
    xs.extend(samples)
    ys.extend([level] * len(samples))

fig, ax = plt.subplots(figsize=(10, 10), dpi=100)
ax.plot(xs, ys, "k.", markersize=7, label="Samples\n$\\mu$ = 6113.25, $\\sigma$ = 8.11")
ax.set_xlabel("Sample #")
ax.set_ylabel("ADC Counts")
ax.set_title("Run 654, channel029, Pedestal")
ax.grid(True)
ax.legend(loc="upper right")
fig.subplots_adjust(left=0.0805, right=0.985, top=0.965, bottom=0.059)
fig.savefig("out.png", dpi=100)
